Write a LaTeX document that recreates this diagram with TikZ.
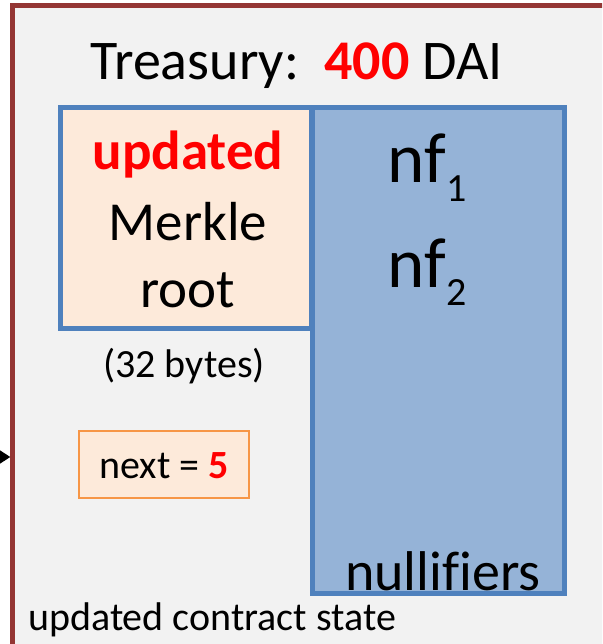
\documentclass[tikz,border=0pt]{standalone}
\usepackage{fontspec}
\setmainfont{Carlito}[Ligatures={TeX,NoCommon}]
\usetikzlibrary{arrows.meta,shadows}
\definecolor{statefill}{HTML}{F2F2F2}
\definecolor{stateline}{HTML}{943634}
\definecolor{boxblue}{HTML}{4F81BD}
\definecolor{peach}{HTML}{FDEADA}
\definecolor{nullblue}{HTML}{95B3D7}
\definecolor{orangeline}{HTML}{F79646}
\definecolor{hot}{HTML}{FF0000}
\newcommand{\fs}[1]{\fontsize{#1}{#1}\selectfont}
\tikzset{
  statebox/.style={draw=stateline, fill=statefill, line width=4.5pt, inner sep=0pt, rectangle},
  bluebox/.style={draw=boxblue, line width=5pt, inner sep=0pt, rectangle,
    drop shadow={opacity=0.35, shadow xshift=2pt, shadow yshift=-2pt}},
  nextbox/.style={draw=orangeline, fill=peach, line width=1.6pt, inner sep=0pt, rectangle},
  txt/.style={inner sep=0pt, anchor=base},
}
\begin{document}
\begin{tikzpicture}[x=1pt,y=-1pt]
\path[use as bounding box, clip] (0,0) rectangle (602,644);
\node[statebox, minimum width=607.5pt, minimum height=664.5pt] (state) at (316.25,337.75) {};
\coordinate (src) at (-20,457);
\draw[line width=1.5pt, -{Triangle[length=11pt,width=14pt]}] (src) -- (src -| state.west);
\node[txt] (treasury) at (296.5,80) {\fs{56}Treasury:\ \ \textcolor{hot}{\textbf{400}} DAI};
\node[bluebox, fill=nullblue, minimum width=252pt, minimum height=485pt] (nulls) at (438,350.5) {};
\node[bluebox, fill=peach, minimum width=251pt, minimum height=220.5pt] (merkle) at (185.5,218.25) {};
\node[txt] (upd) at (188,170) {\fs{55}\textcolor{hot}{\textbf{updated}}};
\node[txt] (mer) at (188,240) {\fs{55}Merkle};
\node[txt] (root) at (188,307) {\fs{55}root};
\node[txt] (bytes) at (184,377) {\fs{40}(32 bytes)};
\node[txt] (nf1) at (427,183) {\fs{71}nf\raisebox{-18pt}{\fs{40}1}};
\node[txt] (nf2) at (427,287) {\fs{71}nf\raisebox{-18pt}{\fs{40}2}};
\node[txt] (nullif) at (443,590) {\fs{56}nullifiers};
\node[nextbox, minimum width=170pt, minimum height=67pt] (next) at (164,464.5) {};
\node[txt] (nexttxt) at (164,478) {\fs{40}next = \textcolor{hot}{\textbf{5}}};
\node[txt, anchor=base west] (label) at (28,630) {\fs{40}updated contract state};
\end{tikzpicture}
\end{document}
